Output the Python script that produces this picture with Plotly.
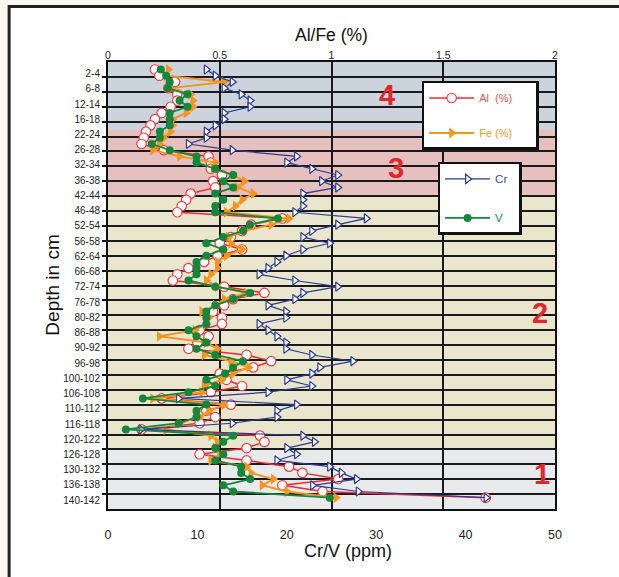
import numpy as np
import plotly.graph_objects as go

# ---------------- data ----------------
depth_top = list(range(2, 142, 2))  # 70 samples, 2 cm slices (top of slice, cm)

al_pct = [0.21, 0.23, 0.30, 0.27, 0.31, 0.31, 0.28, 0.24, 0.21, 0.19, 0.17, 0.16, 0.15, 0.25, 0.45,
          0.46, 0.46, 0.51, 0.47, 0.48, 0.37, 0.35, 0.33, 0.31, 0.78,
          0.64, 0.60, 0.55, 0.50, 0.60, 0.49, 0.43, 0.36, 0.31, 0.29, 0.52, 0.70, 0.56, 0.52, 0.47,
          0.51, 0.51, 0.41, 0.45, 0.40,
          0.36, 0.62, 0.73, 0.65, 0.50, 0.53, 0.60, 0.46, 0.24, 0.55, 0.44, 0.48, 0.41, 0.15, 0.68,
          0.70, 0.62, 0.41, 0.62, 0.81, 0.87, 1.03, 0.78, 0.96, 1.69]

fe_pct = [0.27, 0.26, 0.52, 0.28, 0.37, 0.38, 0.38, 0.35, 0.29, 0.29, 0.28, 0.25, 0.23, 0.20, 0.32,
          0.48, 0.47, 0.56, 0.61, 0.58, 0.65, 0.60, 0.57, 0.53, 0.81,
          0.73, 0.61, 0.54, 0.55, 0.60, 0.53, 0.49, 0.49, 0.46, 0.44, 0.49, 0.62, 0.52, 0.48, 0.42,
          0.45, 0.44, 0.39, 0.23, 0.44,
          0.49, 0.43, 0.55, 0.63, 0.56, 0.51, 0.43, 0.42, 0.20, 0.52, 0.45, 0.41, 0.32, 0.26, 0.46,
          0.49, 0.48, 0.50, 0.46, 0.62, 0.64, 0.74, 0.69, 0.80, 1.02]

cr_ppm = [11.0, 12.0, 13.9, 13.0, 14.9, 15.9, 15.9, 13.0, 13.0, 12.0, 11.0, 11.0, 9.0, 13.9, 21.1,
          20.0, 22.8, 25.7, 23.9, 25.7, 21.8, 21.8, 21.8, 20.9, 28.9,
          25.7, 22.8, 21.8, 24.8, 21.8, 19.9, 18.9, 17.9, 16.9, 20.9, 25.7, 21.8, 20.9, 17.9, 19.9,
          19.9, 16.9, 17.9, 18.9, 19.9,
          19.9, 22.8, 27.4, 23.7, 22.8, 20.0, 22.8, 17.9, 7.9, 21.1, 18.9, 18.9, 13.9, 3.7, 21.8,
          23.1, 20.0, 21.1, 18.9, 24.8, 26.1, 27.8, 22.9, 28.0, 42.3]

v_ppm = [5.9, 6.5, 6.9, 6.7, 8.9, 8.0, 8.9, 6.9, 6.9, 6.9, 5.8, 5.8, 4.9, 6.9, 9.9,
         9.9, 12.0, 14.0, 12.9, 14.0, 12.0, 12.9, 12.0, 12.0, 19.0,
         15.9, 15.1, 12.9, 11.0, 12.9, 11.0, 9.9, 9.9, 9.9, 9.0, 12.0, 15.9, 14.0, 12.0, 11.0,
         11.0, 11.0, 9.0, 9.9, 11.0,
         9.9, 12.0, 15.1, 14.0, 13.1, 11.0, 12.0, 9.0, 3.9, 11.0, 9.9, 9.9, 7.9, 2.0, 14.0,
         12.9, 12.0, 12.9, 12.0, 14.9, 14.9, 15.9, 12.9, 14.0, 24.8]

depth_labels = ["2-4", "6-8", "12-14", "16-18", "22-24", "26-28", "32-34", "36-38", "42-44",
                "46-48", "52-54", "56-58", "62-64", "66-68", "72-74", "76-78", "80-82", "86-88",
                "90-92", "96-98", "100-102", "106-108", "110-112", "116-118", "120-122",
                "126-128", "130-132", "136-138", "140-142"]

top_ticks = [0, 0.5, 1, 1.5, 2]
bottom_ticks = [0, 10, 20, 30, 40, 50]

zone_names = ["4", "3", "2", "1"]
zone_edges = [-0.42, 21.5, 43.0, 124.5, 143.64]   # depth (cm) limits of the zones
zone_colors = ["#cbd3dd", "#e6bfbf", "#e9e6cd", "#e9eaec"]
zone_label_pos = [(0.624, 10.2), (0.645, 33.7), (0.966, 80.4), (0.970, 132.3)]  # (paper x, depth)

Y_RANGE = [143.64, -0.42]
FONT = "Liberation Sans, Arial, sans-serif"

# ---------------- figure ----------------
fig = go.Figure()

fig.add_trace(go.Scatter(
    x=al_pct, y=depth_top, xaxis="x", yaxis="y", mode="lines+markers",
    name='<span style="color:#ea5157">Al\u00a0\u00a0(%)</span>\u00a0\u00a0\u00a0\u00a0\u00a0\u00a0',
    legend="legend", legendgroup="al",
    line=dict(color="#ee2a30", width=1.5),
    marker=dict(symbol="circle", size=9.5, color="white", line=dict(color="#ef3d42", width=1.2))))

fig.add_trace(go.Scatter(
    x=fe_pct, y=depth_top, xaxis="x", yaxis="y", mode="lines+markers",
    name='<span style="color:#f7962a">Fe (%)</span>\u00a0\u00a0\u00a0\u00a0\u00a0\u00a0',
    legend="legend", legendgroup="fe",
    line=dict(color="#f7941d", width=2),
    marker=dict(symbol="triangle-right", size=9.5, color="#f7941d")))

fig.add_trace(go.Scatter(
    x=cr_ppm, y=depth_top, xaxis="x2", yaxis="y", mode="lines+markers",
    name='<span style="color:#3a4a9c">Cr</span>\u00a0\u00a0',
    legend="legend2", legendgroup="cr",
    line=dict(color="#2b3a93", width=1.2),
    marker=dict(symbol="triangle-right", size=8, color="white", line=dict(color="#2b3a93", width=1.2))))

fig.add_trace(go.Scatter(
    x=v_ppm, y=depth_top, xaxis="x2", yaxis="y", mode="lines+markers",
    name='<span style="color:#1a8a44">V</span>\u00a0\u00a0\u00a0',
    legend="legend2", legendgroup="v",
    line=dict(color="#118a3e", width=1.8),
    marker=dict(symbol="circle", size=8, color="#14873d")))

# panel + zone background bands
shapes = [dict(type="rect", xref="paper", yref="paper", x0=-0.2212, x1=1.2, y0=-0.3, y1=1.124,
               fillcolor="white", line=dict(color="#222222", width=3), layer="below")]
for i, name in enumerate(zone_names):
    shapes.append(dict(type="rect", xref="x domain", yref="y", x0=0, x1=1,
                       y0=zone_edges[i], y1=zone_edges[i + 1],
                       fillcolor=zone_colors[i], line=dict(width=0), layer="below"))

annotations = []
for name, (px, dy) in zip(zone_names, zone_label_pos):
    annotations.append(dict(text="<b>%s</b>" % name, xref="paper", yref="y", x=px, y=dy,
                            xanchor="center", yanchor="middle", showarrow=False,
                            font=dict(family=FONT, size=29, color="#e2262b")))
annotations += [
    dict(text="Al/Fe (%)", xref="paper", yref="paper", x=0.5, y=1.060, showarrow=False,
         xanchor="center", yanchor="middle", font=dict(family=FONT, size=17.5, color="#111")),
    dict(text="Cr/V (ppm)", xref="paper", yref="paper", x=0.537, y=-0.093, showarrow=False,
         xanchor="center", yanchor="middle", font=dict(family=FONT, size=18, color="#111")),
    dict(text="Depth in cm", xref="paper", yref="paper", x=-0.125, y=0.5, showarrow=False,
         xanchor="center", yanchor="middle",
         textangle=-90, font=dict(family=FONT, size=19, color="#111")),
]

n_bands = 30
grid_vals = list(np.linspace(Y_RANGE[1], Y_RANGE[0], n_bands + 1)[1:-1])
label_vals = list(np.linspace(3.3, 140.8, len(depth_labels)))

fig.update_layout(
    width=619, height=577,
    margin=dict(l=108, r=64, t=62, b=68),
    paper_bgcolor="#f7f6ef", plot_bgcolor="white",
    font=dict(family=FONT, color="#222"),
    showlegend=True,
    shapes=shapes, annotations=annotations,
    xaxis=dict(side="top", range=[0, 2], tickvals=top_ticks, ticktext=["0", "0.5", "1", "1.5", "2"],
               showgrid=True, gridcolor="#1a1a1a", gridwidth=2, zeroline=False,
               showline=True, mirror=True, linecolor="#111", linewidth=2,
               ticks="", ticklabelstandoff=-3, tickfont=dict(size=10.5, color="#222")),
    xaxis2=dict(side="bottom", overlaying="x", range=[0, 50], tickvals=bottom_ticks,
                showgrid=False, zeroline=False, showline=False, ticks="",
                ticklabelstandoff=16, tickfont=dict(size=12.5, color="#222")),
    yaxis=dict(range=Y_RANGE, tickmode="array", tickvals=label_vals, ticktext=depth_labels,
               showgrid=False, zeroline=False, showline=True, mirror=True,
               linecolor="#111", linewidth=2, ticks="", ticklabelstandoff=4,
               tickfont=dict(size=10, color="#222"),
               minor=dict(tickmode="array", tickvals=grid_vals, showgrid=True,
                          gridcolor="#1a1a1a", gridwidth=2, ticks="outside",
                          ticklen=4, tickwidth=2, tickcolor="#111")),
    legend=dict(x=0.7017, y=0.9575, xanchor="left", yanchor="top", bgcolor="white",
                bordercolor="#111", borderwidth=2.5, font=dict(family=FONT, size=11),
                tracegroupgap=16, itemwidth=45, traceorder="grouped"),
    legend2=dict(x=0.7374, y=0.7764, xanchor="left", yanchor="top", bgcolor="white",
                 bordercolor="#111", borderwidth=2.5, font=dict(family=FONT, size=11.5),
                 tracegroupgap=20, itemwidth=45, traceorder="grouped"),
)

fig.write_html("out.html", config={"displayModeBar": False})
